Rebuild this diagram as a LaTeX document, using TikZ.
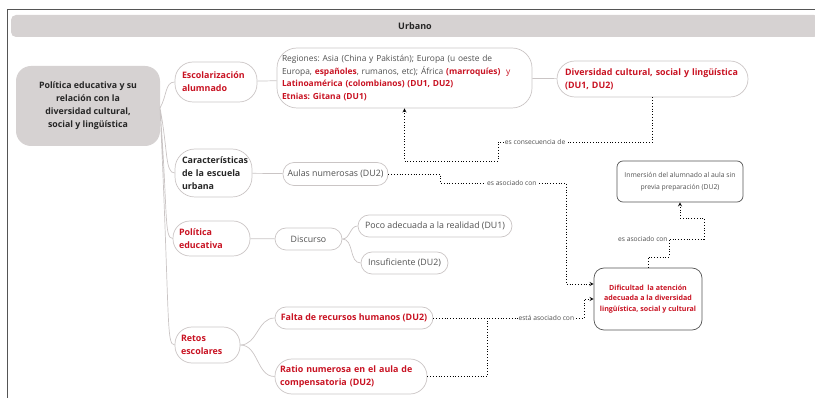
\documentclass[tikz,border=0pt]{standalone}
\usepackage{fontspec}
\setmainfont{Open Sans}
\usetikzlibrary{positioning, arrows}
\definecolor{rot}{RGB}{200,18,34}
\definecolor{grauFill}{RGB}{214,210,210}
\definecolor{grauRand}{RGB}{202,197,197}
\definecolor{grauText}{RGB}{80,80,80}
\definecolor{dunkel}{RGB}{85,85,85}
\frenchspacing
\tikzset{
    x=1pt, y=-1pt, % ein Pixel pro Punkt, y nach unten
    every node/.style={ % Grundschrift
        font=\fontsize{8.8}{12.7}\selectfont,
        text=grauText
    },
    pill/.style={ % helle Knoten mit runden Ecken
        draw=grauRand,
        line width=0.7pt,
        rounded corners=#1,
        inner ysep=0pt,
        align=left
    },
    pill/.default=11pt,
    fett/.style={font=\fontsize{8.9}{13}\selectfont\bfseries},
    rotfett/.style={fett, text=rot},
    kasten/.style={ % dunkle Kaesten rechts
        draw=dunkel,
        line width=0.7pt,
        align=center
    },
    ast/.style={draw=grauRand, line width=0.7pt}, % Aeste der Mindmap
    bezug/.style={ % gepunktete Beziehungen
        draw=black,
        dotted,
        line width=0.8pt,
        ->,>=stealth
    },
    bezugohne/.style={draw=black, dotted, line width=0.8pt},
    etikett/.style={
        font=\fontsize{6.7}{8}\selectfont,
        text=grauText,
        fill=white,
        inner sep=1pt
    }
}
\begin{document}
\begin{tikzpicture}
    \useasboundingbox (0,0) rectangle (815,398);
    % rahmen und kopf
    \draw[dunkel, line width=1.4pt] (7.5,398) -- (7.5,9.5) -- (815,9.5);
    \node[fill=grauFill, rounded corners=5pt, minimum width=808, minimum height=22,
          font=\fontsize{9}{11}\selectfont\bfseries, text=black!85]
          (urbano) at (415,26) {Urbano};

    % wurzel
    \node[fill=grauFill, rounded corners=15pt, minimum width=144, minimum height=80,
          align=center, font=\fontsize{8.8}{13}\selectfont\bfseries, text=black!85]
          (wurzel) at (88,106)
          {Política educativa y su\\relación con la\\diversidad cultural,\\social y lingüística};
    \coordinate (nabe) at (160,108);

    % erste zeile
    \node[pill=18pt, rotfett, inner xsep=7pt, text width=68, minimum height=40]
          (esc) at (216,82) {Escolarización\\alumnado};
    \node[pill=20pt, inner xsep=5pt, text width=245, minimum height=60,
          font=\fontsize{8.4}{12.7}\selectfont]
          (reg) at (404.5,78)
          {Regiones: Asia (China y Pakistán); Europa (u oeste de\\
           Europa, \textcolor{rot}{\bfseries españoles}, rumanos, etc); África
           \textcolor{rot}{\bfseries(marroquíes)}\ \ \textcolor{rot}{y}\\
           \textcolor{rot}{\bfseries Latinoamérica (colombianos) (DU1, DU2)}\\
           \textcolor{rot}{\bfseries Etnias: Gitana (DU1)}};
    \node[pill=18pt, rotfett, inner xsep=8pt, text width=175, minimum height=36]
          (div) at (652.5,79) {Diversidad cultural, social y lingüística\\(DU1, DU2)};

    % zweite zeile
    \node[pill=20pt, fett, text=black!85, inner xsep=7pt, text width=63, minimum height=48]
          (car) at (213.5,173) {Características\\de la escuela\\urbana};
    \node[pill, minimum width=105, minimum height=23]
          (aul) at (335.5,174) {Aulas numerosas (DU2)};
    \node[kasten, rounded corners=6pt, minimum width=126, minimum height=41,
          font=\fontsize{6.8}{12}\selectfont]
          (inm) at (680,181.5) {Inmersión del alumnado al aula sin\\previa preparación (DU2)};

    % dritte zeile
    \node[pill=17pt, rotfett, inner xsep=6pt, text width=65, minimum height=35]
          (pol) at (211.5,238.5) {Política\\educativa};
    \node[pill, minimum width=67, minimum height=22]
          (dis) at (308.5,239) {Discurso};
    \node[pill, minimum width=154, minimum height=22]
          (poc) at (435,226) {Poco adecuada a la realidad (DU1)};
    \node[pill, minimum width=87, minimum height=22]
          (ins) at (404.5,263) {Insuficiente (DU2)};
    \node[kasten, rounded corners=10pt, minimum width=108, minimum height=62,
          font=\fontsize{7.1}{10.5}\selectfont\bfseries, text=rot]
          (dif) at (648,299) {Dificultad\ \ la atención\\adecuada a la diversidad\\lingüística, social y cultural};

    % vierte zeile
    \node[pill=17pt, rotfett, inner xsep=6pt, text width=53, minimum height=36]
          (ret) at (207.5,345) {Retos\\escolares};
    \node[pill, rotfett, minimum width=158, minimum height=22]
          (fal) at (354,318) {Falta de recursos humanos (DU2)};
    \node[pill=17pt, rotfett, inner xsep=5pt, text width=142, minimum height=35]
          (rat) at (351,376.5) {Ratio numerosa en el aula de\\compensatoria (DU2)};

    \draw[ast]
            % von der wurzel
            (nabe)  .. controls (167,96)  and (165,82)  .. (esc.west)
            (nabe)  .. controls (168,150) and (165,173) .. (car.west)
            (nabe)  .. controls (168,215) and (164,238) .. (pol.west)
            (nabe)  .. controls (170,320) and (166,345) .. (ret.west)
            % weiter nach rechts
            (esc)   edge                    (reg)
            (reg)   edge                    (div)
            (car)   edge                    (aul)
            (pol)   edge                    (dis)
            (dis.east) edge[out=0,in=180]   (poc)
            (dis.east) edge[out=0,in=180]   (ins)
            (ret.east) edge[out=0,in=180]   (fal)
            (ret.east) edge[out=0,in=180]   (rat)
    ;

    % gepunktete beziehungen
    \draw[bezug] (div.south) |- node[etikett, pos=0.88]{es consecuencia de} (498,142)
                 -- (498,161) -| (reg.south);
    \draw[bezug] (aul.east) -| (440,183)
                 -- node[etikett, pos=0.57]{es asociado con} (566,183)
                 |- ([yshift=15pt]dif.west);
    \draw[bezug] (fal.east) -- node[etikett, pos=0.75]{está asociado con} (584,318)
                 |- (dif.west);
    \draw[bezugohne] (rat.east) -| (487,318);
    \draw[bezug] (dif.north) -- (648,257)
                 -| node[etikett, pos=1, anchor=east]{es asociado con} (669,239)
                 -- (704,239) |- (681,218) -| (inm.south);
\end{tikzpicture}
\end{document}
